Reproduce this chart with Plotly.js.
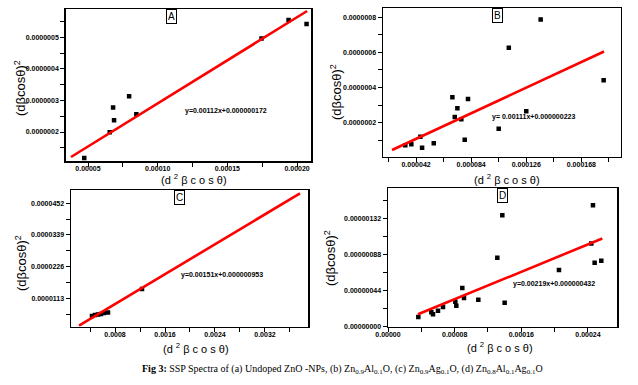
<!DOCTYPE html>
<html>
<head>
<meta charset="utf-8">
<script src="https://cdn.plot.ly/plotly-3.0.1.min.js"></script>
<style>html,body{margin:0;padding:0;background:#fff;}#chart{width:638px;height:385px;}</style>
</head>
<body>
<div id="chart"></div>
<script>
// ---------- Panel A data ----------
const A_x = [0.0000473, 0.0000656, 0.0000680, 0.0000687, 0.0000795, 0.0000847, 0.0001745, 0.0001939, 0.0002068];
const A_y = [1.18e-7, 1.99e-7, 2.78e-7, 2.37e-7, 3.13e-7, 2.56e-7, 4.965e-7, 5.544e-7, 5.418e-7];
const A_fitX = [0.0000378, 0.0002072];
const A_fitY = [1.209e-7, 5.832e-7];
const A_xTicks = [0.00005, 0.00010, 0.00015, 0.00020];
const A_xLabels = ["0.00005", "0.00010", "0.00015", "0.00020"];
const A_yTicks = [2e-7, 3e-7, 4e-7, 5e-7];
const A_yLabels = ["0.0000002", "0.0000003", "0.0000004", "0.0000005"];
const A_eq = "y=0.00112x+0.000000172";

// ---------- Panel B data ----------
const B_x = [0.0000338, 0.0000384, 0.0000453, 0.0000466, 0.0000555, 0.0000697, 0.0000715, 0.0000735, 0.0000765, 0.0000791, 0.0000816, 0.000105, 0.0001127, 0.000126, 0.000137, 0.000185];
const B_y = [0.712e-7, 0.769e-7, 1.202e-7, 0.575e-7, 0.826e-7, 3.447e-7, 2.324e-7, 2.82e-7, 2.194e-7, 1.032e-7, 3.35e-7, 1.658e-7, 6.27e-7, 2.649e-7, 7.87e-7, 4.416e-7];
const B_fitX = [0.0000237, 0.0001853];
const B_fitY = [0.444e-7, 6.05e-7];
const B_xTicks = [0.000042, 0.000084, 0.000126, 0.000168];
const B_xLabels = ["0.000042", "0.000084", "0.000126", "0.000168"];
const B_yTicks = [2e-7, 4e-7, 6e-7, 8e-7];
const B_yLabels = ["0.0000002", "0.0000004", "0.0000006", "0.0000008"];
const B_eq = "y= 0.00111x+0.000000223";

// ---------- Panel C data ----------
const C_x = [0.000432, 0.000480, 0.000528, 0.000576, 0.000624, 0.000688, 0.001232];
const C_y = [0.498e-5, 0.534e-5, 0.552e-5, 0.570e-5, 0.605e-5, 0.623e-5, 1.462e-5];
const C_fitX = [0.000224, 0.00376];
const C_fitY = [0.152e-5, 4.876e-5];
const C_xTicks = [0.0008, 0.0016, 0.0024, 0.0032];
const C_xLabels = ["0.0008", "0.0016", "0.0024", "0.0032"];
const C_yTicks = [1.13e-5, 2.26e-5, 3.39e-5, 4.52e-5];
const C_yLabels = ["0.0000113", "0.0000226", "0.0000339", "0.0000452"];
const C_eq = "y=0.00151x+0.000000953";

// ---------- Panel D data ----------
const D_x = [0.0000364, 0.000052, 0.000054, 0.000060, 0.000066, 0.0000808, 0.000082, 0.0000892, 0.0000912, 0.0001084, 0.0001312, 0.0001372, 0.000140, 0.0002052, 0.000244, 0.000246, 0.000248, 0.000256];
const D_y = [1.186e-7, 1.76e-7, 1.516e-7, 1.956e-7, 2.41e-7, 3.056e-7, 2.567e-7, 4.73e-7, 3.51e-7, 3.3e-7, 8.43e-7, 1.365e-6, 2.93e-7, 6.93e-7, 1.019e-6, 1.487e-6, 7.82e-7, 8.07e-7];
const D_fitX = [0.000036, 0.0002572];
const D_fitY = [1.516e-7, 1.0804e-6];
const D_xTicks = [0, 0.00008, 0.00016, 0.00024];
const D_xLabels = ["0.00000", "0.00008", "0.00016", "0.00024"];
const D_yTicks = [0, 4.4e-7, 8.8e-7, 1.32e-6];
const D_yLabels = ["0.00000000", "0.00000044", "0.00000088", "0.00000132"];
const D_eq = "y=0.00219x+0.000000432";

const panelLabels = ["A", "B", "C", "D"];
const xTitle = "(d <sup>2</sup> β c o s θ)";
const yTitle = "(dβcosθ)<sup>2</sup>";
const caption = "<b>Fig 3:</b> SSP Spectra of (a) Undoped ZnO -NPs, (b) Zn<sub>0.9</sub>Al<sub>0.1</sub>O, (c) Zn<sub>0.9</sub>Ag<sub>0.1</sub>O, (d) Zn<sub>0.8</sub>Al<sub>0.1</sub>Ag<sub>0.1</sub>O";

const W = 638, H = 385;
const px = v => v / W;
const py = v => 1 - v / H;

const panels = [
  {x: A_x, y: A_y, fx: A_fitX, fy: A_fitY, xt: A_xTicks, xl: A_xLabels, yt: A_yTicks, yl: A_yLabels, eq: A_eq,
   xr: [0.000034, 0.00021], yr: [1.082e-7, 5.886e-7], xminor: 0.000025, yminor: 0.5e-7,
   dom: {l: 65.7, r: 311, t: 9.3, b: 161}, box: [171, 16], eqPos: [226, 111], xT: [194, 179], yT: [20, 88]},
  {x: B_x, y: B_y, fx: B_fitX, fy: B_fitY, xt: B_xTicks, xl: B_xLabels, yt: B_yTicks, yl: B_yLabels, eq: B_eq,
   xr: [0.0000168, 0.000198], yr: [0.063e-7, 8.51e-7], xminor: 0.000021, yminor: 1e-7,
   dom: {l: 383, r: 620.7, t: 8.3, b: 156.7}, box: [497, 15], eqPos: [533, 117], xT: [507, 179], yT: [336, 92]},
  {x: C_x, y: C_y, fx: C_fitX, fy: C_fitY, xt: C_xTicks, xl: C_xLabels, yt: C_yTicks, yl: C_yLabels, eq: C_eq,
   xr: [0.000096, 0.003893], yr: [0.117e-5, 4.995e-5], xminor: 0.0004, yminor: 0.565e-5,
   dom: {l: 71, r: 308.3, t: 190, b: 326.7}, box: [180, 198], eqPos: [222, 275], xT: [196, 348], yT: [21, 263]},
  {x: D_x, y: D_y, fx: D_fitX, fy: D_fitY, xt: D_xTicks, xl: D_xLabels, yt: D_yTicks, yl: D_yLabels, eq: D_eq,
   xr: [0, 0.0002752], yr: [0, 1.695e-6], xminor: 0.00004, yminor: 2.2e-7,
   dom: {l: 388, r: 617.3, t: 188.3, b: 326.7}, box: [502, 196], eqPos: [554, 284], xT: [500, 347], yT: [330, 258]}
];

const traces = [];
const layout = {
  width: W, height: H,
  margin: {l: 0, r: 0, t: 0, b: 0},
  paper_bgcolor: "#ffffff", plot_bgcolor: "#ffffff",
  showlegend: false,
  font: {family: "Liberation Sans, Arial, sans-serif", color: "#000000"},
  annotations: []
};

const tickFont = {family: "Liberation Sans, Arial, sans-serif", size: 7, color: "#000000", weight: "bold"};

panels.forEach((p, i) => {
  const n = i === 0 ? "" : String(i + 1);
  const xa = "x" + n, ya = "y" + n;
  traces.push({x: p.x, y: p.y, xaxis: xa, yaxis: ya, type: "scatter", mode: "markers",
    marker: {symbol: "square", size: 4.5, color: "#000"}, hoverinfo: "skip"});
  traces.push({x: p.fx, y: p.fy, xaxis: xa, yaxis: ya, type: "scatter", mode: "lines",
    line: {color: "#ff0000", width: 2.6}, hoverinfo: "skip"});

  layout["xaxis" + n] = {
    domain: [px(p.dom.l), px(p.dom.r)], range: p.xr, anchor: ya,
    tickmode: "array", tickvals: p.xt, ticktext: p.xl, tickfont: tickFont,
    ticks: "outside", ticklen: 4, tickwidth: 1, tickcolor: "#000",
    ticklabelstandoff: -4,
    minor: {dtick: p.xminor, tick0: 0, ticks: "outside", ticklen: 4, tickcolor: "#000", showgrid: false},
    showline: true, mirror: true, linecolor: "#000", linewidth: 1.5,
    showgrid: false, zeroline: false, fixedrange: true
  };
  layout["yaxis" + n] = {
    domain: [py(p.dom.b), py(p.dom.t)], range: p.yr, anchor: xa,
    tickmode: "array", tickvals: p.yt, ticktext: p.yl, tickfont: tickFont,
    ticks: "outside", ticklen: 4, tickwidth: 1, tickcolor: "#000",
    minor: {dtick: p.yminor, tick0: 0, ticks: "outside", ticklen: 4, tickcolor: "#000", showgrid: false},
    showline: true, mirror: true, linecolor: "#000", linewidth: 1.5,
    showgrid: false, zeroline: false, fixedrange: true
  };

  layout.annotations.push({xref: "paper", yref: "paper", x: px(p.box[0]), y: py(p.box[1]),
    text: panelLabels[i], showarrow: false, bordercolor: "#000", borderwidth: 1, borderpad: 1,
    bgcolor: "#fff", font: {size: 10, color: "#000"}, xanchor: "center", yanchor: "middle"});
  layout.annotations.push({xref: "paper", yref: "paper", x: px(p.eqPos[0]), y: py(p.eqPos[1]),
    text: p.eq, showarrow: false, font: {size: 7, color: "#000", weight: "bold"},
    xanchor: "center", yanchor: "middle"});
  layout.annotations.push({xref: "paper", yref: "paper", x: px(p.xT[0]), y: py(p.xT[1]),
    text: xTitle, showarrow: false, font: {size: 11, color: "#000"}, xanchor: "center", yanchor: "middle"});
  layout.annotations.push({xref: "paper", yref: "paper", x: px(p.yT[0]), y: py(p.yT[1]),
    text: yTitle, showarrow: false, textangle: -90, font: {size: 13, color: "#000"}, xanchor: "center", yanchor: "middle"});
});

layout.annotations.push({xref: "paper", yref: "paper", x: px(342), y: py(369),
  text: caption, showarrow: false, font: {family: "Liberation Serif, Times New Roman, serif", size: 10, color: "#000"},
  xanchor: "center", yanchor: "middle"});

Plotly.newPlot("chart", traces, layout, {staticPlot: true, displayModeBar: false});
</script>
</body>
</html>
